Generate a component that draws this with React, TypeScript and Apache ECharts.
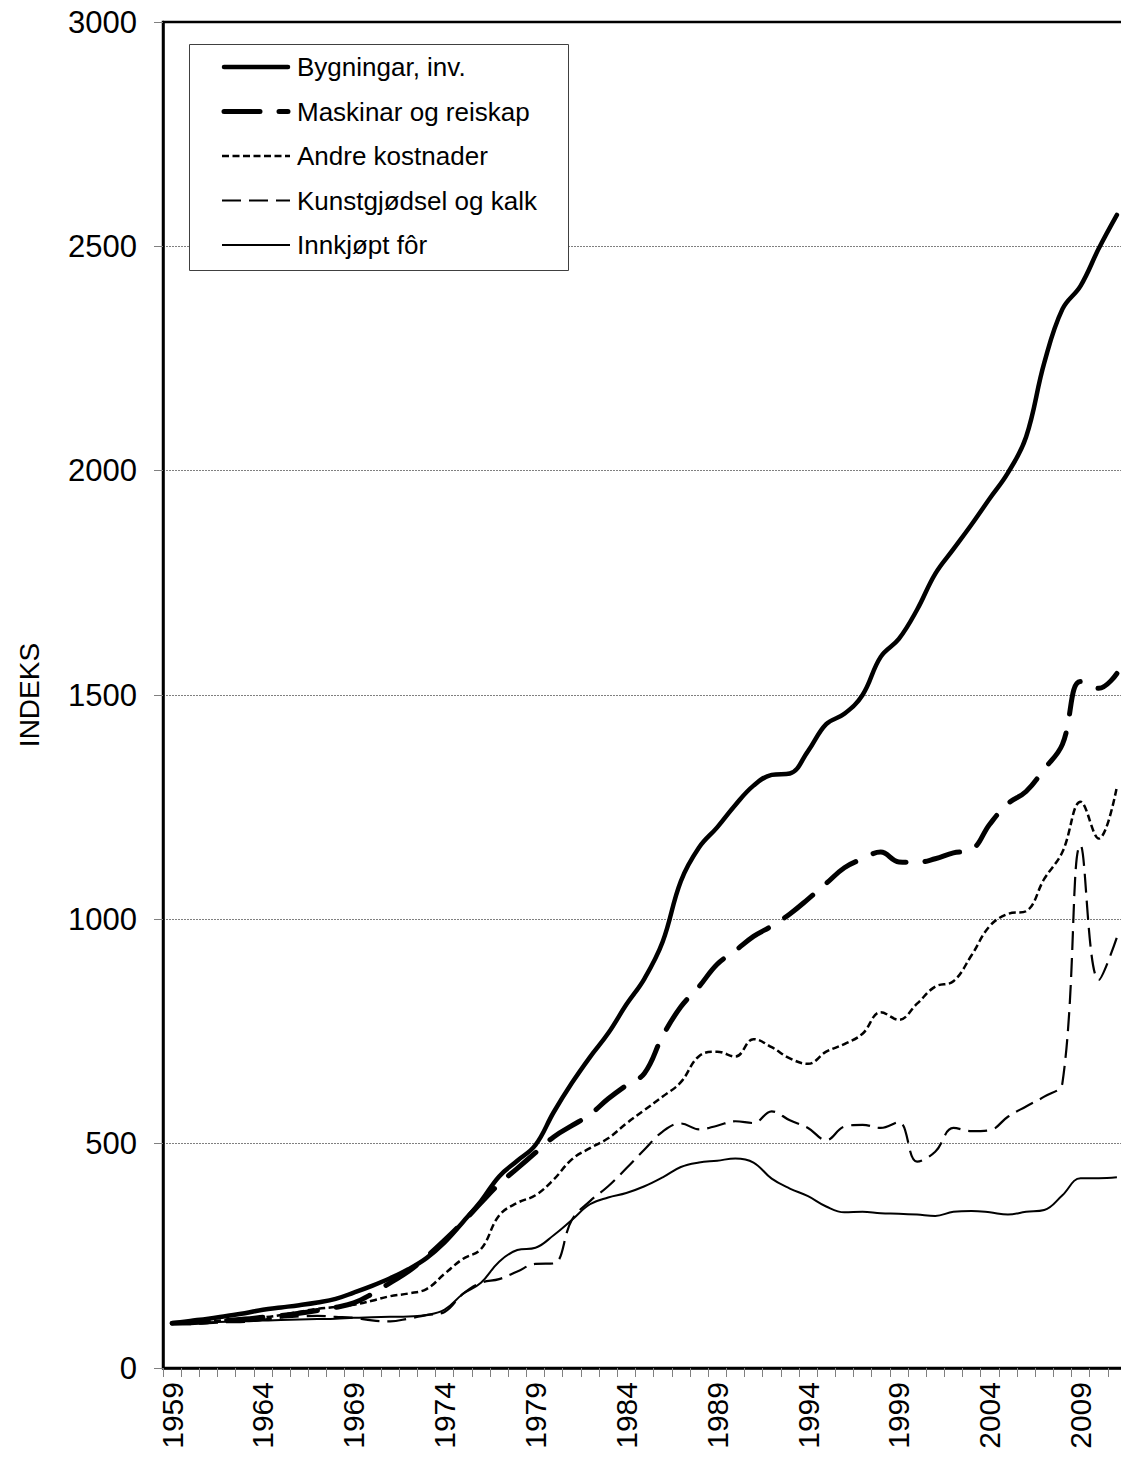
import React, { useEffect, useRef } from 'react';
import * as echarts from 'echarts';

const years = [
  '1959', '1960', '1961', '1962', '1963', '1964', '1965', '1966', '1967', '1968',
  '1969', '1970', '1971', '1972', '1973', '1974', '1975', '1976', '1977', '1978',
  '1979', '1980', '1981', '1982', '1983', '1984', '1985', '1986', '1987', '1988',
  '1989', '1990', '1991', '1992', '1993', '1994', '1995', '1996', '1997', '1998',
  '1999', '2000', '2001', '2002', '2003', '2004', '2005', '2006', '2007', '2008',
  '2009', '2010', '2011',
];

const bygningar = [
  100, 105, 110, 116, 122, 130, 135, 140, 146, 154,
  168, 183, 200, 220, 245, 280, 325, 372, 427, 462,
  497, 570, 635, 693, 746, 810, 868, 950, 1085, 1160,
  1205, 1255, 1298, 1322, 1325, 1375, 1435, 1458, 1500, 1585,
  1625, 1690, 1770, 1825, 1880, 1938, 1995, 2075, 2240, 2360,
  2412, 2495, 2570,
];

const maskinar = [
  100, 101, 103, 106, 109, 113, 117, 122, 128, 135,
  145, 165, 190, 215, 248, 285, 325, 368, 410, 445,
  480, 515, 540, 565, 600, 630, 657, 740, 805, 850,
  900, 930, 962, 985, 1012, 1045, 1080, 1115, 1135, 1150,
  1128, 1127, 1135, 1148, 1155, 1212, 1258, 1285, 1335, 1390,
  1530, 1515, 1548,
];

const andre = [
  100, 102, 104, 107, 110, 113, 118, 125, 132, 136,
  141, 150, 160, 166, 176, 210, 243, 265, 340, 368,
  385, 420, 465, 490, 512, 545, 575, 605, 637, 695,
  705, 694, 733, 715, 690, 678, 705, 722, 745, 793,
  776, 812, 850, 862, 920, 985, 1012, 1018, 1090, 1150,
  1262, 1180, 1296,
];

const kunstgjodsel = [
  100, 98, 100, 102, 103, 108, 112, 115, 116, 114,
  112, 106, 104, 110, 118, 125, 165, 190, 198, 215,
  232, 233, 330, 372, 405, 445, 487, 527, 545, 532,
  540, 550, 546, 572, 552, 535, 508, 538, 542, 535,
  548, 460, 482, 535, 528, 530, 560, 583, 605, 635,
  1165, 865, 960,
];

const innkjopt = [
  100, 101, 102, 103, 104, 106, 107, 108, 109, 110,
  112, 113, 114, 115, 118, 130, 165, 190, 237, 263,
  268, 296, 330, 365, 380, 390, 405, 425, 448, 458,
  462, 467, 458, 422, 400, 383, 360, 347, 348, 345,
  344, 342, 339, 348, 350, 347, 342, 348, 352, 385,
  423, 423, 425,
];

const seriesNames = [
  'Bygningar, inv.',
  'Maskinar og reiskap',
  'Andre kostnader',
  'Kunstgjødsel og kalk',
  'Innkjøpt fôr',
];

const seriesData = [bygningar, maskinar, andre, kunstgjodsel, innkjopt];

const FONT = '"Liberation Sans", Arial, sans-serif';

export default function App() {
  const ref = useRef<HTMLDivElement>(null);

  useEffect(() => {
    if (!ref.current) return;
    const chart = echarts.init(ref.current, null, { renderer: 'svg' });

    const styles: any[] = [
      { width: 4.5, type: 'solid', cap: 'round' },
      { width: 5, type: [36, 19], cap: 'round' },
      { width: 2.5, type: [7, 3.5], cap: 'butt' },
      { width: 2.2, type: [19, 8], cap: 'butt' },
      { width: 2, type: 'solid', cap: 'butt' },
    ];

    const rowY = [67, 111.5, 156, 200.5, 245];

    const legendElements: any[] = [
      {
        type: 'rect',
        shape: { x: 189.5, y: 44.5, width: 379, height: 226 },
        style: { fill: '#fff', stroke: '#404040', lineWidth: 1 },
        z: 100,
      },
    ];
    seriesNames.forEach((name, i) => {
      const s = styles[i];
      legendElements.push({
        type: 'line',
        shape: { x1: s.cap === 'round' ? 224 : 222, y1: rowY[i], x2: s.cap === 'round' ? 288 : 290, y2: rowY[i] },
        style: {
          stroke: '#000',
          lineWidth: s.width,
          lineDash: Array.isArray(s.type) ? s.type : null,
          lineCap: s.cap,
        },
        z: 101,
      });
      legendElements.push({
        type: 'text',
        x: 297,
        y: rowY[i],
        style: {
          text: name,
          fontSize: 26,
          fontFamily: FONT,
          fill: '#000',
          align: 'left',
          verticalAlign: 'middle',
        },
        z: 101,
      });
    });

    chart.setOption({
      animation: false,
      backgroundColor: '#fff',
      grid: {
        left: 163,
        right: 9,
        top: 22,
        bottom: 90,
        show: true,
        borderColor: '#000',
        borderWidth: 2.5,
        containLabel: false,
      },
      xAxis: {
        type: 'category',
        data: years,
        boundaryGap: true,
        axisLine: { show: true, lineStyle: { color: '#000', width: 2.5 } },
        axisTick: { show: true, interval: 0, length: 9, lineStyle: { color: '#808080', width: 1 } },
        axisLabel: {
          interval: 4,
          rotate: 90,
          fontSize: 30,
          fontFamily: FONT,
          color: '#000',
          margin: 14,
        },
        splitLine: { show: false },
      },
      yAxis: {
        type: 'value',
        min: 0,
        max: 3000,
        interval: 500,
        name: 'INDEKS',
        nameLocation: 'middle',
        nameGap: 120,
        nameTextStyle: { fontSize: 28, fontFamily: FONT, color: '#000' },
        axisLine: { show: true, lineStyle: { color: '#000', width: 2.5 } },
        axisTick: { show: true, length: 9, lineStyle: { color: '#808080', width: 1 } },
        axisLabel: {
          fontSize: 31,
          fontFamily: FONT,
          color: '#000',
          margin: 26,
          formatter: (v: number) => String(v),
        },
        splitLine: {
          show: true,
          showMinLine: false,
          showMaxLine: false,
          lineStyle: { color: '#808080', width: 1, type: [2, 1] },
        },
      },
      series: seriesNames.map((name, i) => ({
        name,
        type: 'line',
        data: seriesData[i],
        smooth: 0.4,
        symbol: 'none',
        showSymbol: false,
        lineStyle: {
          color: '#000',
          width: styles[i].width,
          type: styles[i].type,
          cap: styles[i].cap,
          join: 'round',
        },
        z: 10 - i,
      })),
      graphic: legendElements,
    });

    return () => {
      chart.dispose();
    };
  }, []);

  return (
    <div
      style={{
        position: 'absolute',
        left: 0,
        top: 0,
        width: 1121,
        height: 1458,
        overflow: 'hidden',
        background: '#fff',
      }}
    >
      <div ref={ref} style={{ width: 1135, height: 1458 }} />
    </div>
  );
}
